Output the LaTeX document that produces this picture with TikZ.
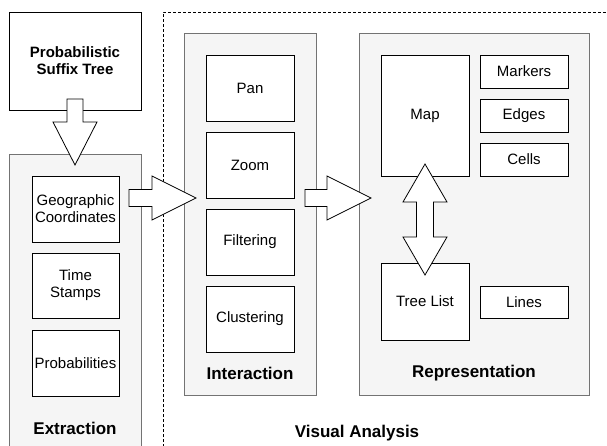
\documentclass[tikz,border=0pt]{standalone}
\usepackage{fontspec}
\setmainfont{Liberation Sans}
\begin{document}
\begin{tikzpicture}[x=1pt,y=-1pt,
  container/.style={draw=black!55, fill=black!4, line width=0.8pt, inner sep=0pt, outer sep=0pt},
  itembox/.style={draw=black, fill=white, line width=0.8pt, inner sep=0pt, outer sep=0pt, align=center, font=\fontsize{15}{17}\selectfont},
  grouplabel/.style={font=\fontsize{17}{20}\selectfont\bfseries, inner sep=0pt},
  blockarrow/.style={draw=black, fill=white, line width=0.8pt, line join=miter}
]
\useasboundingbox (0,0) rectangle (607,446);

% source
\node[itembox, minimum width=132pt, minimum height=98pt, font=\fontsize{15}{17}\selectfont\bfseries] (pst) at (75,61) {Probabilistic\\Suffix Tree};

% dashed region
\coordinate (dA) at (163,447);
\coordinate (dB) at (163,12);
\coordinate (dC) at (608,12);
\draw[line width=0.7pt, dash pattern=on 3pt off 2pt] (dA) -- (dB) -- (dC);

% Extraction
\node[container, minimum width=132pt, minimum height=300pt] (ext) at (75,304) {};
\node[itembox, minimum width=87pt, minimum height=66pt] (geo) at (75.5,209) {Geographic\\Coordinates};
\node[itembox, minimum width=87pt, minimum height=65pt] (time) at (75.5,285.5) {Time\\Stamps};
\node[itembox, minimum width=87pt, minimum height=66pt] (prob) at (75.5,363) {Probabilities};
\node[grouplabel] (extl) at (75,428) {Extraction};

% Interaction
\node[container, minimum width=132pt, minimum height=362pt] (inter) at (250,214) {};
\node[itembox, minimum width=88pt, minimum height=66pt] (pan) at (250,88) {Pan};
\node[itembox, minimum width=88pt, minimum height=66pt] (zoom) at (250,165) {Zoom};
\node[itembox, minimum width=88pt, minimum height=66pt] (filt) at (250,242) {Filtering};
\node[itembox, minimum width=88pt, minimum height=66pt] (clus) at (250,319) {Clustering};
\node[grouplabel] (interl) at (250,373) {Interaction};

% Representation
\node[container, minimum width=230pt, minimum height=362pt] (rep) at (474,214) {};
\node[itembox, minimum width=88pt, minimum height=121pt] (map) at (425,115.5) {Map};
\node[itembox, minimum width=88pt, minimum height=33pt] (mark) at (524,71.5) {Markers};
\node[itembox, minimum width=88pt, minimum height=33pt] (edges) at (524,115.5) {Edges};
\node[itembox, minimum width=88pt, minimum height=33pt] (cells) at (524,159.5) {Cells};
\node[itembox, minimum width=88pt, minimum height=77pt] (tree) at (425,301.5) {Tree List};
\node[itembox, minimum width=88pt, minimum height=32pt] (lines) at (524,302) {Lines};
\node[grouplabel] (repl) at (474,373) {Representation};

\node[grouplabel] (va) at (357,433) {Visual Analysis};

% block arrows
\draw[blockarrow] (67,99) -- (83,99) -- (83,122) -- (97,122) -- (75,165) -- (53,122) -- (67,122) -- cycle;
\draw[blockarrow] (129,189.5) -- (152,189.5) -- (152,176) -- (196,198) -- (152,220) -- (152,206.5) -- (129,206.5) -- cycle;
\draw[blockarrow] (305,189.5) -- (327,189.5) -- (327,176) -- (371,198) -- (327,220) -- (327,206.5) -- (305,206.5) -- cycle;
\draw[blockarrow] (425,164) -- (447,202) -- (433.5,202) -- (433.5,237) -- (447,237) -- (425,275) -- (403,237) -- (416.5,237) -- (416.5,202) -- (403,202) -- cycle;
\end{tikzpicture}
\end{document}
